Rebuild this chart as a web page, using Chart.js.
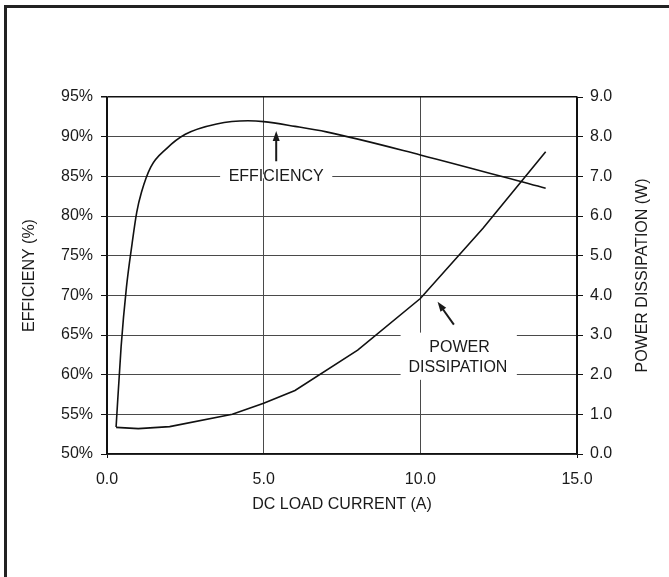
<!DOCTYPE html>
<html>
<head>
<meta charset="utf-8">
<script src="https://cdn.jsdelivr.net/npm/chart.js@4.4.1/dist/chart.umd.min.js"></script>
<style>
  html, body { margin: 0; padding: 0; background: #fff; }
  canvas { display: block; }
</style>
</head>
<body>
<canvas id="myChart" width="669" height="577"></canvas>
<script>
// efficiency curve (left axis, %)
const currentEff = [0.29, 0.45, 0.62, 0.8, 0.95, 1.1, 1.4, 1.9, 2.5, 3.5, 4.5, 5.0, 6.0, 7.0, 10.0, 14.0];
const efficiency = [53.4, 63.5, 71.0, 76.5, 80.5, 83.0, 86.2, 88.5, 90.3, 91.6, 92.0, 91.9, 91.3, 90.6, 87.7, 83.5];

// power dissipation curve (right axis, W)
const currentPwr = [0.29, 1.0, 2.0, 4.0, 5.0, 6.0, 8.0, 10.0, 12.0, 14.0];
const powerDiss = [0.67, 0.64, 0.69, 1.0, 1.28, 1.6, 2.62, 3.92, 5.69, 7.62];

const xTicks = [0, 5, 10, 15];
const effTicks = [50, 55, 60, 65, 70, 75, 80, 85, 90, 95];
const pwrTicks = [0, 1, 2, 3, 4, 5, 6, 7, 8, 9];

const ctx = document.getElementById('myChart');
const FONT = '"Liberation Sans", Arial, sans-serif';
const INK = '#1a1a1a';
const GRID = '#4a4a4a';

function arrow(c, x0, y0, x1, y1) {
  const a = Math.atan2(y1 - y0, x1 - x0);
  const hl = 10, hw = 3.5;
  c.save();
  c.strokeStyle = INK;
  c.fillStyle = INK;
  c.lineWidth = 2;
  c.beginPath();
  c.moveTo(x0, y0);
  c.lineTo(x1 - Math.cos(a) * hl * 0.8, y1 - Math.sin(a) * hl * 0.8);
  c.stroke();
  c.beginPath();
  c.moveTo(x1, y1);
  c.lineTo(x1 - Math.cos(a) * hl - Math.sin(a) * hw, y1 - Math.sin(a) * hl + Math.cos(a) * hw);
  c.lineTo(x1 - Math.cos(a) * hl + Math.sin(a) * hw, y1 - Math.sin(a) * hl - Math.cos(a) * hw);
  c.closePath();
  c.fill();
  c.restore();
}

const decor = {
  id: 'decor',
  beforeDraw(chart) {
    const c = chart.ctx;
    c.save();
    c.fillStyle = '#fff';
    c.fillRect(0, 0, chart.width, chart.height);
    // outer frame (left + top only visible)
    c.fillStyle = '#222';
    c.fillRect(4, 5, 3, chart.height - 5);
    c.fillRect(4, 5, chart.width - 4, 3);
    c.restore();
  },
  beforeDatasetsDraw(chart) {
    const c = chart.ctx;
    const { x, y, y1 } = chart.scales;
    c.save();
    c.fillStyle = '#fff';
    // break in the 85% line behind "EFFICIENCY"
    const ex0 = x.getPixelForValue(3.61), ex1 = x.getPixelForValue(7.19);
    const ey = y.getPixelForValue(85);
    c.fillRect(ex0, ey - 2, ex1 - ex0, 4);
    // box behind "POWER DISSIPATION"
    const px0 = x.getPixelForValue(9.37), px1 = x.getPixelForValue(13.08);
    const py0 = y1.getPixelForValue(3.06), py1 = y1.getPixelForValue(1.87);
    c.fillRect(px0, py0, px1 - px0, py1 - py0);
    c.restore();
  },
  afterDatasetsDraw(chart) {
    const c = chart.ctx;
    const { x, y, y1 } = chart.scales;
    c.save();
    c.fillStyle = INK;
    c.font = '16px ' + FONT;
    c.textAlign = 'center';
    c.textBaseline = 'middle';
    c.fillText('EFFICIENCY', x.getPixelForValue(5.4), y.getPixelForValue(85));
    c.fillText('POWER', x.getPixelForValue(11.25), y1.getPixelForValue(2.68));
    c.fillText('DISSIPATION', x.getPixelForValue(11.2), y1.getPixelForValue(2.18));
    c.restore();
    arrow(c, x.getPixelForValue(5.4), y.getPixelForValue(86.9), x.getPixelForValue(5.4), y.getPixelForValue(90.7));
    arrow(c, x.getPixelForValue(11.07), y1.getPixelForValue(3.26), x.getPixelForValue(10.55), y1.getPixelForValue(3.84));
  },
  afterDraw(chart) {
    const c = chart.ctx;
    const { x, y } = chart.scales;
    const midY = (y.top + y.bottom) / 2;
    c.save();
    c.fillStyle = INK;
    c.font = '16px ' + FONT;
    c.textAlign = 'center';
    c.textBaseline = 'middle';
    c.fillText('DC LOAD CURRENT (A)', (x.left + x.right) / 2, 505);
    c.translate(30, midY);
    c.rotate(-Math.PI / 2);
    c.fillText('EFFICIENY (%)', 0, 0);
    c.restore();
    c.save();
    c.fillStyle = INK;
    c.font = '16px ' + FONT;
    c.textAlign = 'center';
    c.textBaseline = 'middle';
    c.translate(643, midY);
    c.rotate(-Math.PI / 2);
    c.fillText('POWER DISSIPATION (W)', 0, 0);
    c.restore();
  }
};

new Chart(ctx, {
  type: 'scatter',
  data: {
    datasets: [{
      label: 'Efficiency',
      data: currentEff.map((v, i) => ({ x: v, y: efficiency[i] })),
      yAxisID: 'y',
      showLine: true,
      borderColor: '#111',
      borderWidth: 1.6,
      pointRadius: 0,
      cubicInterpolationMode: 'monotone'
    }, {
      label: 'Power dissipation',
      data: currentPwr.map((v, i) => ({ x: v, y: powerDiss[i] })),
      yAxisID: 'y1',
      showLine: true,
      borderColor: '#111',
      borderWidth: 1.6,
      pointRadius: 0,
      tension: 0
    }]
  },
  options: {
    responsive: false,
    animation: false,
    layout: { padding: { top: 97, left: 0, right: 0, bottom: 0 } },
    plugins: { legend: { display: false }, tooltip: { enabled: false } },
    scales: {
      x: {
        type: 'linear',
        position: 'bottom',
        min: 0,
        max: 15,
        afterBuildTicks: s => { s.ticks = xTicks.map(v => ({ value: v })); },
        afterFit: s => { s.height = 123; },
        ticks: {
          callback: v => v.toFixed(1),
          font: { family: FONT, size: 16 },
          color: INK,
          padding: 12,
          maxRotation: 0,
          autoSkip: false
        },
        grid: {
          color: c => (c.tick && (c.tick.value === 0 || c.tick.value === 15)) ? '#111' : GRID,
          lineWidth: 1,
          tickLength: 4,
          tickColor: c => (c.tick && (c.tick.value === 0 || c.tick.value === 15)) ? '#111' : 'rgba(0,0,0,0)'
        },
        border: { color: '#111', width: 1.5 }
      },
      y: {
        type: 'linear',
        position: 'left',
        min: 50,
        max: 95,
        afterBuildTicks: s => { s.ticks = effTicks.map(v => ({ value: v })); },
        afterFit: s => { s.width = 107; },
        ticks: {
          callback: v => v + '%',
          font: { family: FONT, size: 16 },
          color: INK,
          padding: 8
        },
        grid: {
          color: c => (c.tick && c.tick.value === 95) ? '#111' : GRID,
          lineWidth: c => (c.tick && c.tick.value === 95) ? 1.5 : 1,
          tickLength: 6,
          tickColor: '#111'
        },
        border: { color: '#111', width: 1.5 }
      },
      y1: {
        type: 'linear',
        position: 'right',
        min: 0,
        max: 9,
        afterBuildTicks: s => { s.ticks = pwrTicks.map(v => ({ value: v })); },
        afterFit: s => { s.width = 92; },
        ticks: {
          callback: v => v.toFixed(1),
          font: { family: FONT, size: 16 },
          color: INK,
          padding: 7
        },
        grid: {
          drawOnChartArea: false,
          tickLength: 6,
          tickColor: '#111'
        },
        border: { color: '#111', width: 1.5 }
      }
    }
  },
  plugins: [decor]
});
</script>
</body>
</html>
